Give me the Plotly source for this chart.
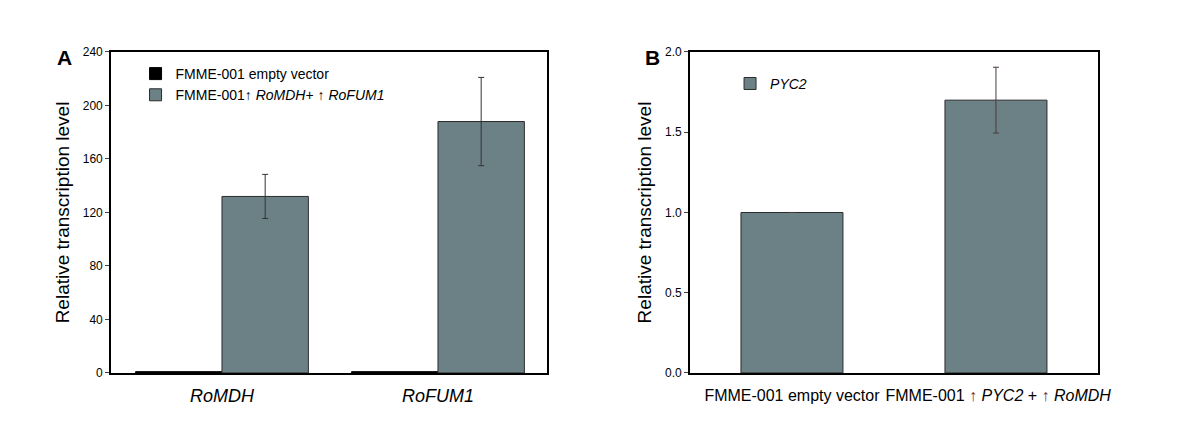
import plotly.graph_objects as go

# ---- data ----
genes_a = ["RoMDH", "RoFUM1"]
empty_vec_a = [1.0, 1.0]
overexp_a = [132, 188]
overexp_a_err = [16.5, 33]

strains_b = ["FMME-001 empty vector", "FMME-001 ↑ PYC2 + ↑ RoMDH"]
pyc2_b = [1.0, 1.70]
pyc2_b_err = [0.0, 0.205]

ticks_a = [0, 40, 80, 120, 160, 200, 240]
ticks_b = [0.0, 0.5, 1.0, 1.5, 2.0]

BAR = "#6b8186"
FONT = "Liberation Sans, Arial, sans-serif"

fig = go.Figure()

fig.add_trace(go.Bar(
    x=genes_a, y=empty_vec_a, name="FMME-001 empty vector",
    marker=dict(color="black", line=dict(color="black", width=1)),
    xaxis="x", yaxis="y", legend="legend",
))
fig.add_trace(go.Bar(
    x=genes_a, y=overexp_a, name="FMME-001↑ <i>RoMDH</i>+ ↑ <i>RoFUM1</i>",
    marker=dict(color=BAR, line=dict(color="#2b2b2b", width=1)),
    error_y=dict(type="data", array=overexp_a_err, color="#333333", thickness=1, width=3),
    xaxis="x", yaxis="y", legend="legend",
))
fig.add_trace(go.Bar(
    x=strains_b, y=pyc2_b, name="<i>PYC2</i>",
    marker=dict(color=BAR, line=dict(color="#2b2b2b", width=1)),
    error_y=dict(type="data", array=pyc2_b_err, color="#4a3a3a", thickness=1, width=3),
    width=0.5,
    xaxis="x2", yaxis="y2", legend="legend2",
))

axis_common = dict(showline=True, linecolor="black", linewidth=1.5, mirror=True,
                   showgrid=False, zeroline=False)

ticktext_a = ["<i>%s</i>" % g for g in genes_a]
ticktext_b = [strains_b[0],
              "&nbsp;FMME-001 <span style='color:#7a2e2e'>↑</span> <i>PYC2</i> + "
              "<span style='color:#7a2e2e'>↑</span> <i>RoMDH</i>"]

YDOM = [0.1853, 0.9018]

fig.update_layout(
    width=1200, height=448,
    margin=dict(l=0, r=0, t=0, b=0),
    paper_bgcolor="white", plot_bgcolor="white",
    font=dict(family=FONT, color="black"),
    barmode="group", bargap=0.2, bargroupgap=0,
    xaxis=dict(domain=[0.0858, 0.4492], range=[-0.514, 1.505], anchor="y",
               tickmode="array", tickvals=genes_a, ticktext=ticktext_a,
               ticks="", tickfont=dict(size=18), ticklabelstandoff=6, tickangle=0,
               automargin=False, **axis_common),
    yaxis=dict(domain=YDOM, range=[0, 240], anchor="x",
               tickmode="array", tickvals=ticks_a, ticks="outside", ticklen=4,
               tickfont=dict(size=12),
               title=dict(text="Relative transcription level", font=dict(size=19), standoff=8),
               automargin=False, **axis_common),
    xaxis2=dict(domain=[0.5683, 0.9083], range=[-0.5, 1.5], anchor="y2",
                tickmode="array", tickvals=strains_b, ticktext=ticktext_b,
                ticks="", tickfont=dict(size=16), ticklabelstandoff=7, tickangle=0,
                automargin=False, **axis_common),
    yaxis2=dict(domain=YDOM, range=[0, 2.0], anchor="x2",
                tickmode="array", tickvals=ticks_b, ticktext=["0.0", "0.5", "1.0", "1.5", "2.0"],
                ticks="outside", ticklen=4, tickfont=dict(size=12),
                title=dict(text="Relative transcription level", font=dict(size=19), standoff=8),
                automargin=False, **axis_common),
    legend=dict(x=0.1063, y=0.8884, xanchor="left", yanchor="top",
                bgcolor="rgba(0,0,0,0)", font=dict(size=14), tracegroupgap=0,
                itemwidth=30),
    legend2=dict(x=0.6017, y=0.8663, xanchor="left", yanchor="top",
                 bgcolor="rgba(0,0,0,0)", font=dict(size=14), itemwidth=30),
    annotations=[
        dict(text="<b>A</b>", x=0.047, y=0.89, xref="paper", yref="paper",
             xanchor="center", yanchor="middle",
             showarrow=False, font=dict(size=21)),
        dict(text="<b>B</b>", x=0.537, y=0.89, xref="paper", yref="paper",
             xanchor="center", yanchor="middle",
             showarrow=False, font=dict(size=21)),
    ],
)

fig.write_html("out.html")
